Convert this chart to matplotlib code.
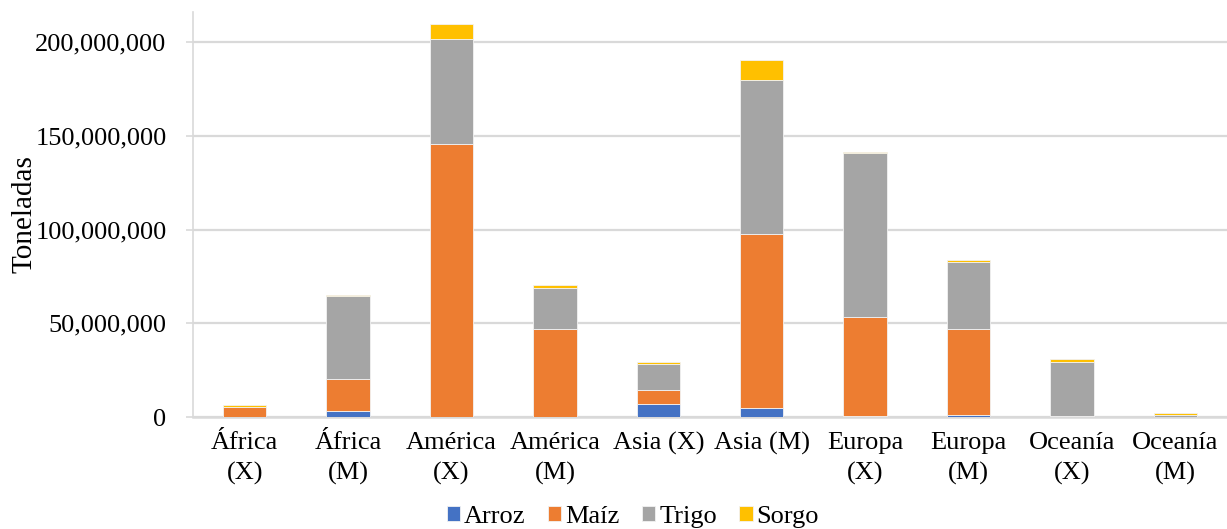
import numpy as np
import matplotlib.pyplot as plt

regiones = ['África\n(X)', 'África\n(M)', 'América\n(X)', 'América\n(M)', 'Asia (X)',
            'Asia (M)', 'Europa\n(X)', 'Europa\n(M)', 'Oceanía\n(X)', 'Oceanía\n(M)']

# millones de toneladas
arroz = [0.1, 3.0, 0.2, 0.2, 7.1, 4.6, 0.3, 1.2, 0.1, 0.1]
maiz = [5.0, 17.2, 145.2, 46.6, 7.1, 93.0, 53.2, 45.8, 0.4, 0.1]
trigo = [0.5, 44.5, 56.4, 22.2, 13.9, 82.1, 87.5, 35.7, 28.8, 0.7]
sorgo = [1.0, 0.6, 7.8, 1.2, 1.4, 10.7, 0.5, 1.0, 1.8, 1.3]

plt.rcParams['font.family'] = ['Liberation Serif', 'DejaVu Serif']
fs = 19

fig = plt.figure(figsize=(12.27, 5.29), dpi=100)
ax = fig.add_axes([193/1227, 1-417/529, 1034/1227, 405/529])

x = np.arange(len(regiones))
ancho = 0.42
series = [('Arroz', arroz, '#4472C4'), ('Maíz', maiz, '#ED7D31'),
          ('Trigo', trigo, '#A5A5A5'), ('Sorgo', sorgo, '#FFC000')]
base = np.zeros(len(regiones))
for nombre, vals, color in series:
    v = np.array(vals) * 1e6
    ax.bar(x, v, ancho, bottom=base, color=color, label=nombre,
           edgecolor='#f2f2f2', linewidth=0.6, zorder=3)
    base += v

ax.set_xlim(-0.5, len(regiones) - 0.5)
ax.set_ylim(0, 216e6)
ax.set_yticks(np.arange(0, 200e6 + 1, 50e6))
ax.yaxis.set_major_formatter(plt.FuncFormatter(lambda v, p: f'{v:,.0f}'))
ax.grid(axis='y', color='#d9d9d9', linewidth=1.6, zorder=0)
ax.set_xticks(x)
ax.set_xticklabels(regiones, fontsize=fs, linespacing=1.45)
ax.tick_params(axis='y', labelsize=fs, length=5, color='#d9d9d9', width=1.2, pad=14)
ax.tick_params(axis='x', length=0, pad=11)
for s in ['top', 'right']:
    ax.spines[s].set_visible(False)
ax.spines['left'].set_color('#d9d9d9')
ax.spines['left'].set_linewidth(1.2)
ax.spines['bottom'].set_color('#d9d9d9')
ax.spines['bottom'].set_linewidth(1.8)
ax.set_ylabel('Toneladas', fontsize=21, labelpad=0)
ax.yaxis.set_label_coords(-0.150, 0.5)

fig.legend(loc='center', bbox_to_anchor=(633/1227, 1-517/529), ncol=4, frameon=False,
           fontsize=fs, handlelength=0.5, handleheight=0.5, handletextpad=0.15,
           columnspacing=0.85, borderpad=0)

fig.savefig('out.png', dpi=100)
